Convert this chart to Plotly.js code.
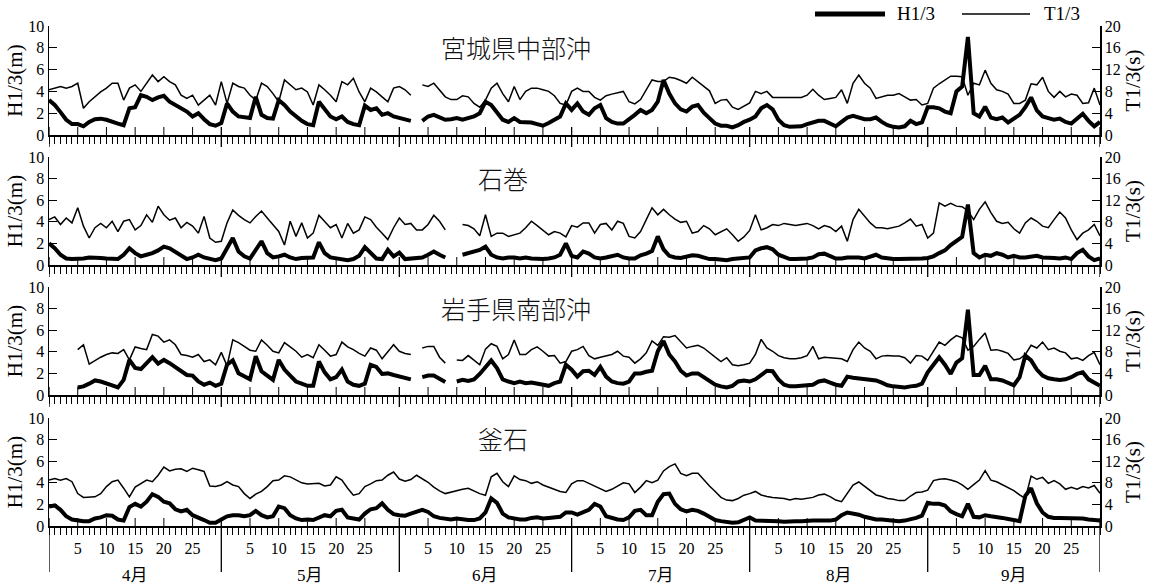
<!DOCTYPE html>
<html><head><meta charset="utf-8">
<script src="https://cdn.plot.ly/plotly-3.0.1.min.js"></script>
<style>html,body{margin:0;padding:0;background:#fff}#chart{width:1153px;height:586px}</style>
</head><body><div id="chart"></div>
<script>
// ---------------- data ----------------
const stations = ['宮城県中部沖', '石巻', '岩手県南部沖', '釜石'];
const months = ['4月', '5月', '6月', '7月', '8月', '9月'];
const monthDays = [30, 31, 30, 31, 31, 30];
const dayTicks = [5, 10, 15, 20, 25];
const legendNames = ['H1/3', 'T1/3'];
const leftTitle = 'H1/3(m)';
const rightTitle = 'T1/3(s)';

// values at each day boundary (index 0 = 1 April, 183 = end of September)
const h_miyagi = [3.2,2.75,2.1,1.4,1.0,1.0,0.8,1.2,1.45,1.5,
 1.4,1.2,1.05,0.9,2.45,2.55,3.65,3.5,3.2,3.45,
 3.6,3.05,2.75,2.5,2.15,1.7,2.0,1.45,1.0,0.85,
 1.1,2.9,2.15,1.7,1.6,1.55,3.5,1.85,1.55,1.5,
 3.2,2.75,2.15,1.7,1.3,1.0,0.9,3.05,2.3,1.7,
 1.45,1.7,1.2,1.0,0.9,2.7,2.3,2.45,1.85,2.0,
 1.7,1.55,1.45,1.3,null,1.3,1.7,1.85,1.6,1.4,
 1.45,1.55,1.4,1.55,1.7,2.0,3.05,2.75,2.0,1.4,
 1.2,1.55,1.2,1.2,1.15,1.0,0.85,1.1,1.4,1.7,
 2.9,2.3,2.9,2.15,1.85,2.45,2.75,1.55,1.2,1.05,
 1.05,1.4,1.85,2.3,2.0,2.3,3.05,5.05,3.8,2.9,
 2.35,2.15,2.6,2.75,2.05,1.55,1.05,0.85,0.85,0.7,
 0.9,1.2,1.4,1.7,2.45,2.75,2.35,1.4,0.9,0.75,
 0.75,0.8,1.0,1.15,1.3,1.3,1.0,0.8,1.2,1.6,
 1.75,1.6,1.45,1.45,1.6,1.2,0.9,0.75,0.7,0.8,
 1.3,1.0,1.15,2.55,2.55,2.45,2.15,2.0,4.0,4.45,
 9.0,2.0,1.7,2.6,1.6,1.45,1.6,1.15,1.45,1.85,
 2.55,3.45,2.25,1.7,1.55,1.4,1.5,1.2,1.05,1.45,
 1.95,1.3,0.8,1.2];
const t_miyagi = [8.3,8.6,8.9,8.6,8.9,9.5,4.9,6.1,7.0,7.9,
 8.6,9.5,9.5,6.4,8.6,9.2,8.0,9.5,11.0,9.8,
 10.7,9.8,9.2,7.3,6.7,7.3,5.5,6.4,7.3,5.5,
 9.8,5.8,9.5,8.9,8.6,7.3,6.4,9.5,8.9,7.6,
 6.1,10.1,9.2,8.3,8.6,7.9,5.5,9.2,8.3,7.3,
 6.1,9.8,9.2,10.4,7.9,6.1,8.6,7.9,7.0,6.1,
 8.6,8.9,8.3,7.3,null,9.2,8.9,9.5,8.3,7.0,
 6.5,6.5,7.2,7.0,5.8,5.1,6.4,8.6,9.5,7.6,
 6.1,8.9,6.5,8.0,8.6,8.6,8.3,8.0,7.2,5.8,
 5.5,8.0,8.6,8.0,8.0,6.9,6.4,7.2,7.5,7.8,
 8.0,6.1,5.7,6.5,8.3,10.1,9.8,9.8,10.6,10.4,
 10.0,9.5,10.6,9.8,8.9,8.1,5.8,6.4,6.5,5.1,
 4.7,5.3,5.9,8.0,7.6,8.0,6.9,6.9,6.9,6.9,
 6.9,6.9,7.3,8.4,7.3,6.5,6.7,6.9,8.3,5.8,
 9.5,11.0,9.5,8.6,6.7,7.0,7.3,7.3,7.6,7.0,
 6.4,6.5,5.5,5.8,8.6,9.4,10.1,10.8,10.8,10.7,
 7.3,9.5,9.2,11.9,9.5,8.3,8.0,7.5,5.8,5.8,
 6.4,9.4,9.2,10.6,8.0,6.9,8.0,7.0,7.5,7.3,
 5.8,5.9,8.6,5.5];

const h_ishinomaki = [2.0,1.55,0.95,0.6,0.55,0.55,0.6,0.7,0.7,0.65,
 0.6,0.55,0.55,0.95,1.55,1.1,0.8,0.95,1.1,1.35,
 1.7,1.55,1.25,0.85,0.55,0.7,0.95,0.7,0.55,0.45,
 0.6,1.55,2.5,1.25,0.8,0.6,1.4,2.2,1.1,0.7,
 0.8,0.95,0.7,0.55,0.65,0.7,0.7,2.1,1.1,0.7,
 0.6,0.55,0.45,0.55,0.85,1.65,1.1,0.6,0.55,1.4,
 0.8,1.15,
 0.55,0.6,0.7,0.7,0.95,1.25,0.95,0.7,null,null,
 0.95,1.1,1.25,1.4,1.7,0.95,0.7,0.6,0.7,0.7,
 0.6,0.7,0.6,0.55,0.55,0.6,0.7,0.95,2.0,0.85,
 0.7,1.25,1.05,0.7,0.6,0.7,0.8,0.95,0.7,0.6,
 0.6,0.9,1.05,1.3,2.65,1.45,0.85,0.7,0.65,0.8,
 0.9,0.85,0.7,0.55,0.55,0.5,0.45,0.55,0.6,0.7,
 0.7,
 1.35,1.55,1.65,1.45,0.95,0.7,0.55,0.55,0.55,0.6,
 0.7,1.0,1.05,0.85,0.6,0.6,0.7,0.7,0.7,0.6,
 0.8,0.95,0.7,0.6,0.55,0.55,0.55,0.55,0.55,0.6,
 0.65,0.8,1.1,1.35,1.85,2.2,2.6,5.6,1.1,0.7,
 0.95,0.85,1.1,0.95,0.7,0.85,0.7,0.7,0.8,0.85,
 0.7,0.7,0.65,0.6,0.7,0.55,1.1,1.4,0.8,0.45,
 0.6];
const t_ishinomaki = [8.4,8.9,7.5,8.7,7.8,10.6,7.2,5.0,6.9,7.7,
 6.9,8.1,6.2,8.1,8.4,6.5,7.3,9.3,7.9,10.9,
 9.3,8.3,8.7,6.9,7.9,7.2,5.9,9.0,5.0,4.2,
 4.4,7.8,10.2,9.2,8.4,7.8,9.0,10.0,8.7,7.5,
 6.2,3.7,8.1,5.3,7.8,5.0,5.9,9.2,8.1,6.9,
 7.5,5.0,7.7,5.9,6.5,8.9,8.4,7.0,5.9,4.7,
 6.9,8.7,
 7.5,7.7,6.5,6.5,7.5,9.2,8.1,6.5,null,null,
 7.5,7.3,6.7,5.4,9.3,5.3,5.9,5.9,5.3,5.6,
 5.9,6.9,8.1,7.3,6.4,5.6,6.2,5.9,5.2,7.3,
 7.0,7.8,7.8,5.9,7.5,7.7,6.5,8.1,7.7,5.3,
 5.0,6.2,8.4,10.6,9.3,10.3,9.3,8.5,7.9,8.1,
 5.9,6.2,7.3,6.7,5.6,6.2,6.7,5.6,4.4,5.2,
 6.4,
 9.3,6.5,6.9,7.5,7.3,7.7,7.5,7.3,7.5,7.7,
 7.3,6.7,7.3,7.0,6.2,7.2,4.4,8.4,10.3,9.0,
 7.8,6.9,6.9,6.7,6.9,7.2,7.8,8.5,7.2,7.5,
 5.0,5.9,11.5,10.9,11.4,10.9,10.8,10.0,8.4,10.3,
 11.7,9.7,8.1,7.7,7.9,6.7,5.9,7.8,8.7,8.1,
 7.2,6.9,8.4,9.8,8.7,6.5,4.7,5.9,6.5,7.5,
 5.4];

const h_iwate = [null,null,null,null,null,
 0.7,0.8,1.05,1.35,1.25,1.1,0.9,0.7,1.4,3.25,
 2.5,2.4,2.95,3.5,2.9,3.25,2.95,2.6,2.25,1.85,
 1.8,1.25,0.95,1.15,0.85,1.05,2.8,3.2,2.0,1.7,
 1.45,3.6,2.2,1.8,1.4,3.25,2.35,1.8,1.25,1.05,
 0.85,0.85,3.1,2.1,1.45,1.65,2.35,1.25,0.95,0.85,
 1.05,2.8,2.6,1.95,2.0,1.85,1.7,
 1.55,1.45,null,1.65,1.8,1.8,1.45,1.2,null,1.25,
 1.4,1.3,1.45,1.95,2.6,3.2,2.5,1.45,1.25,1.1,
 1.25,1.1,1.15,1.05,0.95,0.85,1.1,1.25,2.8,2.35,
 1.7,2.2,2.25,1.85,2.6,1.7,1.25,1.1,1.05,1.25,
 2.0,2.0,2.15,2.25,4.05,5.0,3.75,3.1,2.25,1.8,
 2.0,2.0,1.65,1.25,0.95,0.8,0.7,0.85,1.25,1.35,
 1.25,
 1.45,1.85,2.25,2.2,1.45,0.95,0.8,0.8,0.85,0.9,
 0.95,1.25,1.35,1.15,0.95,0.85,1.7,1.6,1.55,1.45,
 1.4,1.35,1.15,0.9,0.8,0.75,0.7,0.8,0.85,1.05,
 2.1,2.8,3.5,2.8,1.95,3.0,3.4,7.9,1.85,1.85,
 2.7,1.45,1.45,1.35,1.1,0.9,1.65,3.65,3.2,2.35,
 1.8,1.55,1.45,1.4,1.45,1.65,1.95,2.1,1.45,1.1,
 0.85];
const t_iwate = [null,null,null,null,null,
 8.4,9.3,5.7,6.4,7.0,7.5,7.8,7.7,8.4,6.5,
 8.9,8.6,8.4,11.2,10.9,9.8,10.2,9.3,7.5,7.3,
 7.0,7.5,6.2,6.5,5.6,7.9,5.4,10.2,9.7,9.0,
 8.3,8.1,10.2,9.2,8.1,7.8,9.7,8.9,8.1,7.0,
 7.5,6.9,9.3,8.3,7.2,7.5,9.8,8.9,8.4,7.7,
 7.2,8.7,8.3,6.7,8.1,9.3,8.1,
 7.7,7.5,null,8.7,9.0,9.0,7.0,5.9,null,6.5,
 6.4,7.3,6.4,5.6,8.5,9.5,9.0,6.7,7.5,10.2,
 7.5,7.5,8.4,8.9,8.1,7.2,7.3,5.9,6.2,8.1,
 8.4,9.0,7.3,6.7,7.0,7.3,7.5,8.1,7.2,7.0,
 5.9,6.7,7.8,10.0,9.2,10.8,10.7,11.0,9.8,8.7,
 9.0,9.2,8.7,7.8,7.0,6.2,6.9,5.6,5.4,5.6,
 5.9,
 7.5,10.3,8.7,8.1,7.3,6.9,6.7,6.7,6.9,7.3,
 9.0,6.7,7.0,6.9,6.7,6.7,6.2,8.4,9.8,8.7,
 8.1,6.7,7.2,7.3,7.2,7.2,6.9,5.9,7.3,7.2,
 6.4,8.1,9.8,9.2,10.2,11.0,10.6,8.3,9.0,10.3,
 11.5,8.3,8.4,8.1,7.7,6.5,6.7,7.5,9.2,8.7,
 9.8,8.4,8.7,8.1,7.8,6.7,6.9,6.4,7.3,7.9,
 5.6];

const h_kamaishi = [1.8,1.9,1.5,0.9,0.6,0.5,0.45,0.45,0.7,0.8,
 1.0,0.95,0.6,0.5,1.75,2.05,1.8,2.25,2.95,2.7,
 2.25,2.1,1.55,1.35,1.5,1.0,0.8,0.55,0.3,0.3,
 0.6,0.9,1.0,1.0,0.9,1.0,1.4,1.0,0.8,0.9,
 1.8,1.65,1.0,0.7,0.55,0.6,0.55,0.8,1.0,0.9,
 1.4,1.5,0.8,0.7,0.6,1.15,1.55,1.65,2.1,1.5,
 1.1,1.0,
 0.95,1.15,1.3,1.5,1.3,0.9,0.75,0.7,0.6,0.7,
 0.6,0.55,0.55,0.7,1.25,2.55,2.15,1.15,0.8,0.7,
 0.6,0.6,0.75,0.8,0.7,0.75,0.8,0.85,1.25,1.25,
 1.05,1.25,1.5,2.05,1.8,0.9,0.75,0.6,0.55,0.8,
 1.4,1.5,1.0,1.0,2.25,2.95,3.0,2.05,1.55,1.35,
 1.5,1.4,1.15,0.8,0.55,0.45,0.35,0.3,0.35,0.6,
 0.8,
 0.5,0.5,0.5,0.45,0.45,0.4,0.45,0.45,0.45,0.5,
 0.5,0.5,0.5,0.5,0.6,1.0,1.25,1.15,1.05,0.85,
 0.7,0.6,0.6,0.55,0.5,0.45,0.5,0.6,0.75,0.95,
 2.15,2.05,2.05,1.9,1.35,1.1,0.9,2.05,0.85,0.8,
 1.0,0.9,0.85,0.75,0.65,0.55,0.45,2.8,3.5,2.1,
 1.25,0.85,0.75,0.75,0.75,0.75,0.7,0.7,0.6,0.55,
 0.5];
const t_kamaishi = [8.5,8.8,8.5,8.8,8.2,6.0,5.3,5.3,5.4,6.0,
 7.3,8.2,8.5,7.0,5.4,7.2,7.8,8.5,8.2,9.4,
 10.9,10.2,10.5,10.6,10.1,10.7,10.4,10.1,7.4,7.3,
 7.6,8.2,7.6,7.3,6.0,5.1,5.9,6.4,7.3,8.4,
 8.5,9.3,9.1,8.5,8.0,7.8,7.8,7.9,7.4,7.6,
 9.1,8.5,7.0,5.7,6.0,7.3,7.8,8.4,8.5,9.4,
 10.0,8.7,
 8.3,8.6,9.4,8.8,8.1,7.2,6.5,6.0,6.3,6.5,
 6.8,7.0,6.5,6.0,5.7,9.1,9.75,8.2,7.3,9.3,
 8.6,8.4,7.9,8.2,7.6,7.2,6.8,6.4,6.2,7.8,
 8.4,8.4,7.9,7.4,6.8,6.4,6.8,7.4,8.0,7.8,
 6.2,7.2,8.4,8.0,8.5,10.2,11.0,11.5,9.75,9.3,
 9.75,9.75,8.5,7.4,6.4,5.3,4.8,4.7,5.1,5.7,
 6.0,
 6.4,5.75,5.45,5.3,5.2,5.1,4.8,5.1,4.95,5.1,
 5.3,5.75,5.9,5.45,4.8,4.5,6.05,7.6,8.15,7.4,
 6.55,5.75,5.45,5.1,4.95,4.7,4.7,5.55,6.2,6.3,
 6.65,8.4,8.65,8.75,8.5,8.2,7.6,6.8,7.65,8.5,
 10.25,8.5,8.2,7.6,7.15,6.55,5.75,5.1,9.25,8.65,
 9.0,7.9,8.4,7.8,6.8,7.15,6.8,7.3,7.05,7.5,
 6.05];

// ---------------- derived ----------------
const seriesH = [h_miyagi, h_ishinomaki, h_iwate, h_kamaishi];
const seriesT = [t_miyagi, t_ishinomaki, t_iwate, t_kamaishi];
const nDays = monthDays.reduce((a, b) => a + b, 0);          // 183
const days = Array.from({length: nDays + 1}, (_, i) => i);
const monthStart = [];
{ let acc = 0; for (const n of monthDays) { monthStart.push(acc); acc += n; } }
const boundaries = monthStart.concat([nDays]);
const labelFor = d => {
  for (let m = monthStart.length - 1; m >= 0; m--) {
    if (d > monthStart[m]) { const k = d - monthStart[m]; return dayTicks.includes(k) ? String(k) : ''; }
  }
  return '';
};
const fiveDayPos = [];
monthStart.forEach(s => dayTicks.forEach(k => fiveDayPos.push(s + k)));

// ---------------- layout geometry (pixels) ----------------
const L = 49, R = 1100, TOP = 26, BOT = 526;
const px2x = px => (px - L) / (R - L);
const px2y = py => (BOT - py) / (BOT - TOP);
const panelTop = [26, 157, 287, 418];
const panelBot = [135, 265, 395, 526];
const titlePos = [[516, 47], [503, 178], [516, 308], [503, 438]];

const serif = 'Liberation Serif, DejaVu Serif, serif';
const tickFont = {family: serif, size: 16, color: '#000'};
const axTitleFont = {family: serif, size: 21, color: '#000'};

const traces = [];
const layout = {
  width: 1153, height: 586,
  margin: {l: L, r: 1153 - R, t: TOP, b: 586 - BOT},
  paper_bgcolor: '#fff', plot_bgcolor: 'rgba(0,0,0,0)',
  showlegend: false,
  font: {family: serif, color: '#000'},
  shapes: [], annotations: []
};

for (let p = 0; p < 4; p++) {
  const xa = p === 0 ? 'x' : 'x' + (p + 1);
  const ya = p === 0 ? 'y' : 'y' + (p + 1);
  const yr = 'y' + (p + 5);
  traces.push({x: days, y: seriesT[p], xaxis: xa, yaxis: yr, type: 'scatter', mode: 'lines',
    line: {color: '#000', width: 1.5}, connectgaps: false, hoverinfo: 'skip', name: legendNames[1]});
  traces.push({x: days, y: seriesH[p], xaxis: xa, yaxis: ya, type: 'scatter', mode: 'lines',
    line: {color: '#000', width: 4}, connectgaps: false, hoverinfo: 'skip', name: legendNames[0]});

  const dom = [px2y(panelBot[p]), px2y(panelTop[p])];
  layout['xaxis' + (p === 0 ? '' : p + 1)] = {
    domain: [0, 1], range: [0, nDays], anchor: ya,
    showline: true, linecolor: '#000', linewidth: 1.5,
    showgrid: false, zeroline: false,
    tickmode: 'array', tickvals: days, ticktext: days.map(labelFor),
    ticks: 'outside', ticklen: 7, tickwidth: 1, tickcolor: '#000',
    showticklabels: p === 3, tickfont: tickFont, tickangle: 0
  };
  layout['yaxis' + (p === 0 ? '' : p + 1)] = {
    domain: dom, range: [0, 10], anchor: xa,
    tickmode: 'array', tickvals: [0, 2, 4, 6, 8, 10],
    ticks: 'inside', ticklen: 8, tickwidth: 1, tickcolor: '#000',
    showline: true, linecolor: '#000', linewidth: 1.5,
    showgrid: false, zeroline: false, tickfont: tickFont,
    title: {text: leftTitle, font: axTitleFont, standoff: 0}
  };
  layout['yaxis' + (p + 5)] = {
    overlaying: ya, side: 'right', anchor: xa, range: [0, 20],
    tickmode: 'array', tickvals: [0, 4, 8, 12, 16, 20],
    ticks: 'inside', ticklen: 8, tickwidth: 1, tickcolor: '#000',
    showline: true, linecolor: '#000', linewidth: 1.5,
    showgrid: false, zeroline: false, tickfont: tickFont,
    title: {text: rightTitle, font: axTitleFont, standoff: 3}
  };

  const axY = px2y(panelBot[p]);
  const up = 8 / (BOT - TOP), down = 12 / (BOT - TOP);
  fiveDayPos.forEach(d => layout.shapes.push({type: 'line', xref: xa, yref: 'paper',
    x0: d, x1: d, y0: axY, y1: axY + up, line: {color: '#000', width: 1}}));
  boundaries.forEach(d => layout.shapes.push({type: 'line', xref: xa, yref: 'paper',
    x0: d, x1: d, y0: axY + up, y1: p === 3 ? px2y(572) : axY - down, line: {color: '#000', width: 1.3}}));

  layout.annotations.push({text: stations[p], xref: 'paper', yref: 'paper',
    x: px2x(titlePos[p][0]), y: px2y(titlePos[p][1]), xanchor: 'center', yanchor: 'middle',
    showarrow: false, font: {family: 'Noto Sans CJK JP', size: 25, color: '#111', weight: 300}});
}

// month labels
months.forEach((m, i) => {
  const mid = monthStart[i] + monthDays[i] / 2;
  layout.annotations.push({text: m, xref: 'x4', yref: 'paper', x: mid, y: px2y(575),
    xanchor: 'center', yanchor: 'middle', showarrow: false,
    font: {family: 'Liberation Serif, Noto Sans CJK JP', size: 17, color: '#000'}});
});

// legend (drawn manually to match long sample lines)
const legY = px2y(14);
layout.shapes.push({type: 'line', xref: 'paper', yref: 'paper', x0: px2x(815), x1: px2x(885), y0: legY, y1: legY, line: {color: '#000', width: 5}});
layout.shapes.push({type: 'line', xref: 'paper', yref: 'paper', x0: px2x(962), x1: px2x(1030), y0: legY, y1: legY, line: {color: '#000', width: 1.3}});
layout.annotations.push({text: legendNames[0], xref: 'paper', yref: 'paper', x: px2x(895), y: legY,
  xanchor: 'left', yanchor: 'middle', showarrow: false, font: {family: serif, size: 19, color: '#000'}});
layout.annotations.push({text: legendNames[1], xref: 'paper', yref: 'paper', x: px2x(1042), y: legY,
  xanchor: 'left', yanchor: 'middle', showarrow: false, font: {family: serif, size: 19, color: '#000'}});

Plotly.newPlot('chart', traces, layout, {displayModeBar: false, staticPlot: true});
</script>
</body></html>
